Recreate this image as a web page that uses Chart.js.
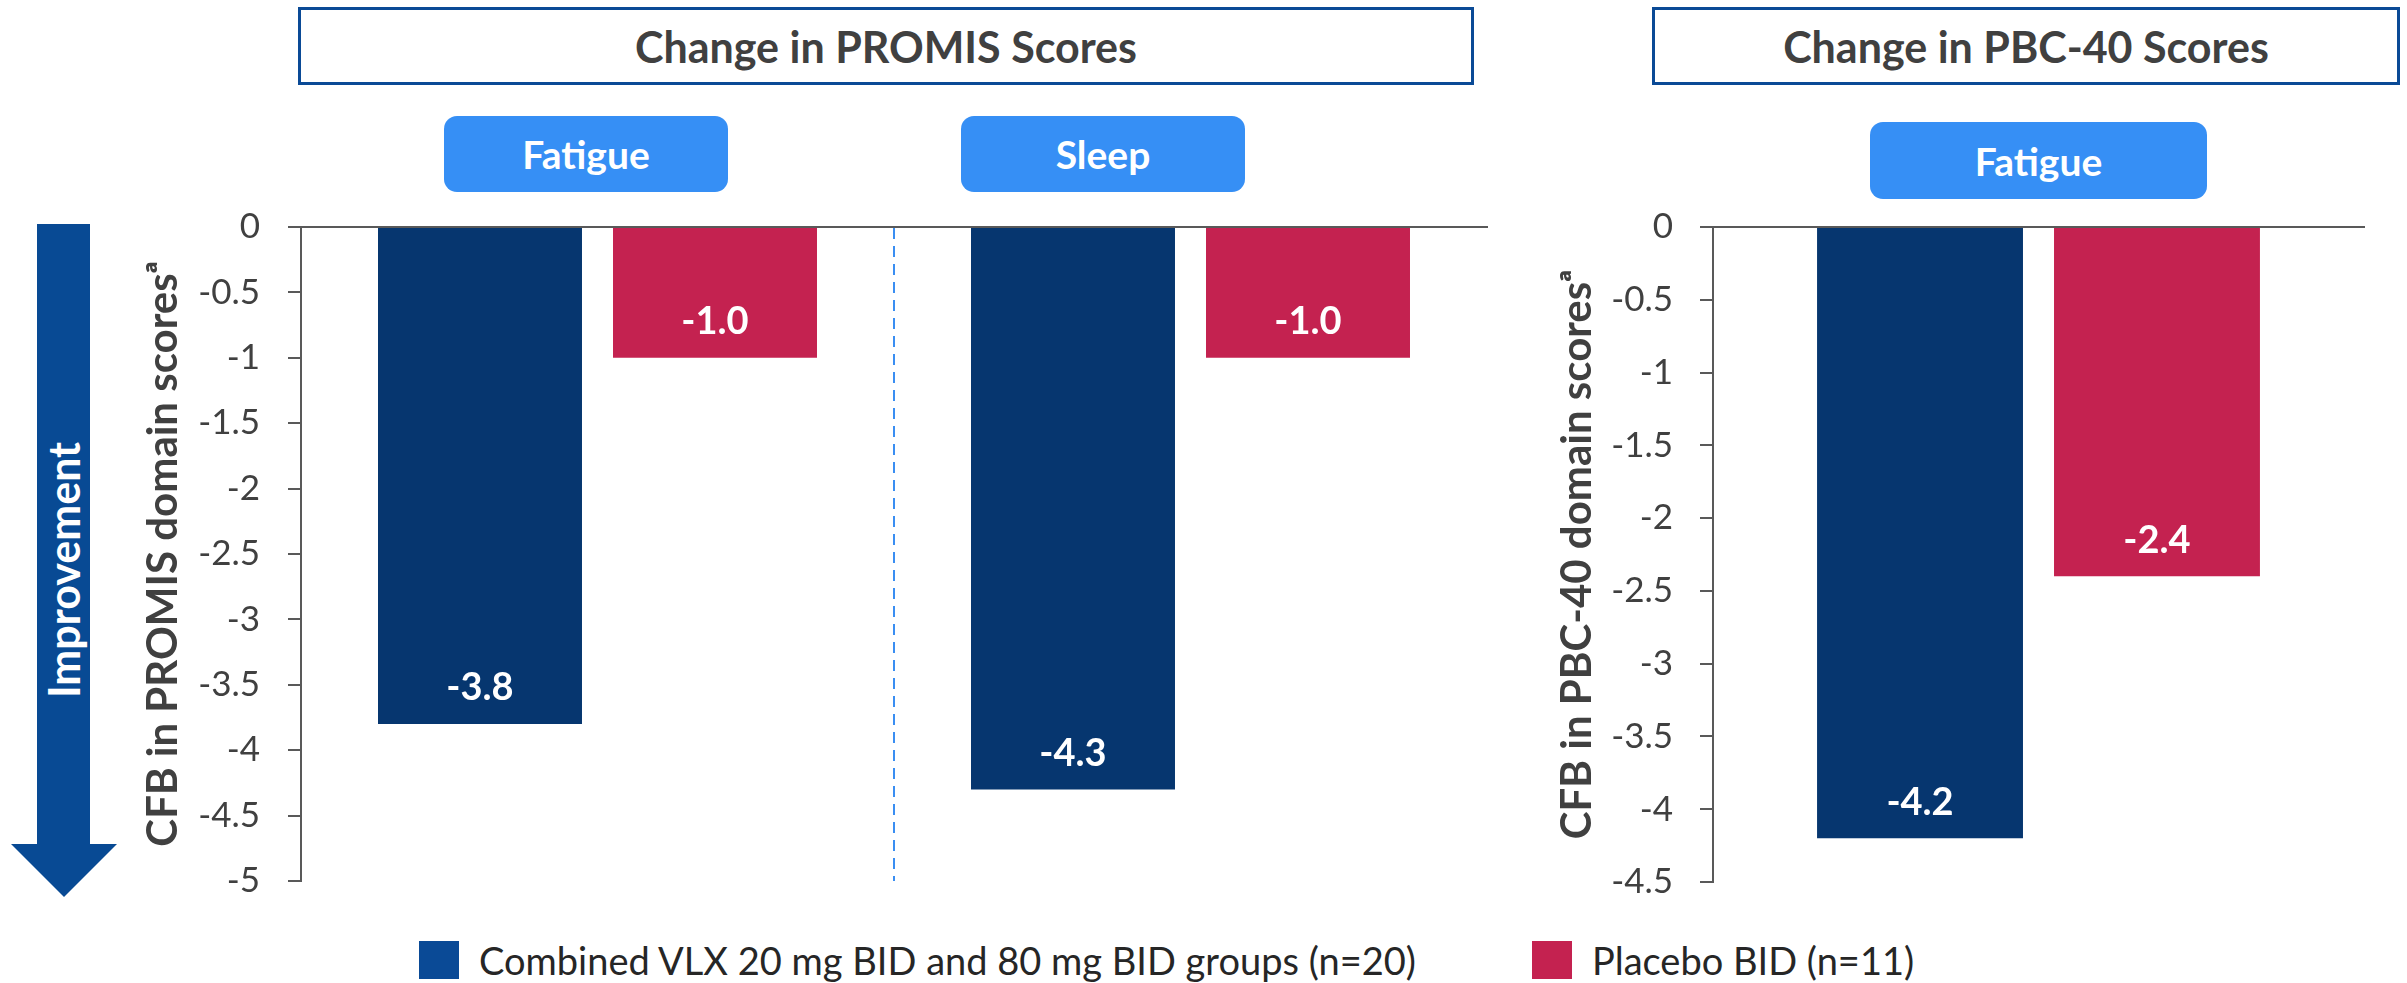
<!DOCTYPE html>
<html>
<head>
<meta charset="utf-8">
<script src="https://cdn.jsdelivr.net/npm/chart.js@4.4.1/dist/chart.umd.min.js"></script>
<style>
  body { margin: 0; width: 2407px; height: 983px; position: relative; overflow: hidden; background: #fff; font-family: Lato, sans-serif; }
  canvas { position: absolute; top: 0; }
  .box { position: absolute; top: 7px; height: 78px; box-sizing: border-box; border: 3px solid #0a4a96; background: #fff;
         display: flex; align-items: center; justify-content: center; font-weight: bold; font-size: 43px; color: #404040; }
  .tab { position: absolute; background: #368ff5; border-radius: 13px; color: #fff; font-weight: bold; font-size: 39px;
         display: flex; align-items: center; justify-content: center; }
  .arrow { position: absolute; left: 0; top: 0; }
  .arrowText { position: absolute; left: 63px; top: 570px; transform: translate(-50%, -50%) rotate(-90deg);
               color: #fff; font-weight: bold; font-size: 43px; white-space: nowrap; }
  .legendItem { position: absolute; top: 941px; height: 38px; display: flex; align-items: center; font-size: 38px; color: #262626; white-space: nowrap; }
  .legendItem span { display: inline-block; width: 40px; height: 38px; margin-right: 20px; }
</style>
</head>
<body>

<div class="box" style="left:298px; width:1176px;">Change in PROMIS Scores</div>
<div class="box" style="left:1652px; width:748px;">Change in PBC-40 Scores</div>

<div class="tab" style="left:444px; top:116px; width:284px; height:76px;">Fatigue</div>
<div class="tab" style="left:961px; top:116px; width:284px; height:76px;">Sleep</div>
<div class="tab" style="left:1870px; top:122px; width:337px; height:77px;">Fatigue</div>

<svg class="arrow" width="130" height="910">
  <polygon points="37,224 90,224 90,844 117,844 64,897 11,844 37,844" fill="#084a94" />
</svg>
<div class="arrowText">Improvement</div>

<canvas id="promisChart" width="1500" height="930" style="left:0px;"></canvas>
<canvas id="pbcChart" width="907" height="930" style="left:1500px;"></canvas>

<div id="legend"></div>

<script>
const promisCategories = ['Fatigue', 'Sleep'];
const promisVlx = [-3.8, -4.3];
const promisPlacebo = [-1.0, -1.0];
const promisRange = [-5, 0];

const pbcCategories = ['Fatigue'];
const pbcVlx = [-4.2];
const pbcPlacebo = [-2.4];
const pbcRange = [-4.5, 0];

const tickStep = 0.5;
const seriesLabels = ['Combined VLX 20 mg BID and 80 mg BID groups (n=20)', 'Placebo BID (n=11)'];

const vlxColor = '#06366f';
const placeboColor = '#c42250';
const axisGray = '#595959';

// white value inside the end of each bar
const valueLabels = {
  id: 'valueLabels',
  afterDatasetsDraw(chart) {
    const ctx = chart.ctx;
    ctx.save();
    ctx.font = 'bold 38px Lato';
    ctx.fillStyle = '#fff';
    ctx.textAlign = 'center';
    ctx.textBaseline = 'middle';
    chart.data.datasets.forEach((ds, i) => {
      chart.getDatasetMeta(i).data.forEach((bar, j) => {
        ctx.fillText(ds.data[j].toFixed(1), bar.x, bar.y - 36);
      });
    });
    ctx.restore();
  }
};

function makeChart(id, labels, vlx, placebo, range, opts) {
  const ctx = document.getElementById(id).getContext('2d');
  return new Chart(ctx, {
    type: 'bar',
    data: {
      labels: labels,
      datasets: [
        { label: seriesLabels[0], data: vlx, backgroundColor: vlxColor, borderWidth: 0,
          categoryPercentage: opts.catPct, barPercentage: opts.barPct },
        { label: seriesLabels[1], data: placebo, backgroundColor: placeboColor, borderWidth: 0,
          categoryPercentage: opts.catPct, barPercentage: opts.barPct }
      ]
    },
    options: {
      responsive: false,
      animation: false,
      devicePixelRatio: 1,
      events: [],
      layout: { padding: { top: 227, right: opts.padRight, bottom: 37, left: 0 } },
      plugins: { legend: { display: false }, tooltip: { enabled: false } },
      scales: {
        x: {
          position: 'top',
          ticks: { display: false },
          grid: {
            display: opts.divider,
            offset: true,
            drawTicks: false,
            lineWidth: 2,
            color: c => c.index === 1 ? '#3a8ef2' : 'rgba(0,0,0,0)'
          },
          border: { display: true, color: axisGray, width: 2, dash: [11, 7] }
        },
        y: {
          min: range[0],
          max: range[1],
          afterFit: scale => { scale.width = opts.axisWidth; },
          ticks: {
            stepSize: tickStep,
            padding: opts.tickPad,
            color: '#404040',
            font: { family: 'Lato', size: 35 },
            callback: v => String(v)
          },
          grid: { drawOnChartArea: false, color: axisGray, lineWidth: 2, tickLength: 13 },
          border: { display: true, color: axisGray, width: 2 },
          title: {
            display: true,
            text: opts.title,
            color: '#404040',
            font: { family: 'Lato', size: 42, weight: 'bold' },
            padding: { top: opts.titlePad, bottom: 0 }
          }
        }
      }
    },
    plugins: [valueLabels]
  });
}

function buildLegend() {
  const legend = document.getElementById('legend');
  const colors = ['#0a4a96', placeboColor];
  const lefts = [419, 1532];
  seriesLabels.forEach((label, i) => {
    const item = document.createElement('div');
    item.className = 'legendItem';
    item.style.left = lefts[i] + 'px';
    item.innerHTML = `<span style="background:${colors[i]}"></span>${label}`;
    legend.appendChild(item);
  });
}

function draw() {
  makeChart('promisChart', promisCategories, promisVlx, promisPlacebo, promisRange, {
    catPct: 0.7926, barPct: 0.868, padRight: 13, axisWidth: 301, tickPad: 28,
    title: 'CFB in PROMIS domain scoresᵃ', titlePad: 138, divider: true
  });
  makeChart('pbcChart', pbcCategories, pbcVlx, pbcPlacebo, pbcRange, {
    catPct: 0.728, barPct: 0.869, padRight: 43, axisWidth: 213, tickPad: 27,
    title: 'CFB in PBC-40 domain scoresᵃ', titlePad: 52, divider: false
  });
  buildLegend();
}

Promise.all([
  document.fonts.load('bold 38px Lato'),
  document.fonts.load('35px Lato')
]).then(draw, draw);
</script>
</body>
</html>
